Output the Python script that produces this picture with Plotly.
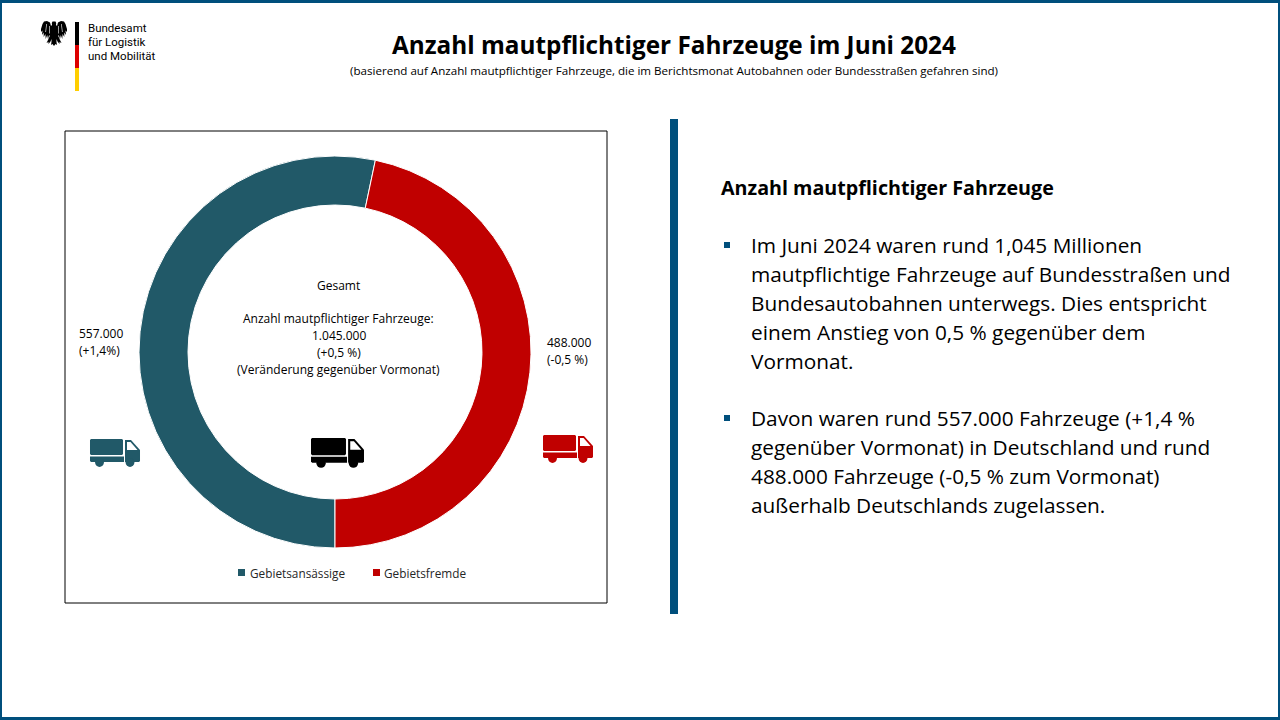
import plotly.graph_objects as go

W, H = 1280, 720
categories = ["Gebietsansässige", "Gebietsfremde"]
values = [557000, 488000]
teal, red, navy = "#215968", "#C00000", "#004F7C"
FONT = "Open Sans"

title = "Anzahl mautpflichtiger Fahrzeuge im Juni 2024"
subtitle = "(basierend auf Anzahl mautpflichtiger Fahrzeuge, die im Berichtsmonat Autobahnen oder Bundesstraßen gefahren sind)"
logo_lines = ["Bundesamt", "für Logistik", "und Mobilität"]
center_lines = ["Gesamt", "Anzahl mautpflichtiger Fahrzeuge:", "1.045.000", "(+0,5 %)", "(Veränderung gegenüber Vormonat)"]
left_label = ["557.000", "(+1,4%)"]
right_label = ["488.000", "(-0,5 %)"]
heading = "Anzahl mautpflichtiger Fahrzeuge"
para1 = ["Im Juni 2024 waren rund 1,045 Millionen", "mautpflichtige Fahrzeuge auf Bundesstraßen und",
         "Bundesautobahnen unterwegs. Dies entspricht", "einem Anstieg von 0,5 % gegenüber dem", "Vormonat."]
para2 = ["Davon waren rund 557.000 Fahrzeuge (+1,4 %", "gegenüber Vormonat) in Deutschland und rund",
         "488.000 Fahrzeuge (-0,5 % zum Vormonat)", "außerhalb Deutschlands zugelassen."]

def px(x): return x / W
def py(y): return 1 - y / H

shapes, annotations = [], []

def rect(x0, y0, x1, y1, fill=None, line=None, lw=0):
    shapes.append(dict(type="rect", xref="paper", yref="paper", x0=px(x0), x1=px(x1), y0=py(y1), y1=py(y0),
                       fillcolor=fill or "rgba(0,0,0,0)", line=dict(color=line or "rgba(0,0,0,0)", width=lw)))

def poly(points, fill, ox=0, oy=0, sx=1, sy=1):
    d = "M" + " L".join(f"{px(ox + a * sx):.5f},{py(oy + b * sy):.5f}" for a, b in points) + " Z"
    shapes.append(dict(type="path", xref="paper", yref="paper", path=d, fillcolor=fill, line=dict(width=0)))

def circle(cx, cy, r, fill):
    shapes.append(dict(type="circle", xref="paper", yref="paper", x0=px(cx - r), x1=px(cx + r),
                       y0=py(cy + r), y1=py(cy - r), fillcolor=fill, line=dict(width=0)))

def text(x, y, s, size, anchor="left", bold=False, color="#000000", family=FONT):
    annotations.append(dict(xref="paper", yref="paper", x=px(x), y=py(y), text=f"<b>{s}</b>" if bold else s,
                            showarrow=False, xanchor=anchor, yanchor="middle", align=anchor,
                            font=dict(family=family, size=size, color=color), borderpad=0))

def truck(x, y, w, h, color):
    sx, sy = w / 50, h / 28
    poly([(1, 0), (32, 0), (33, 1), (33, 15), (32, 16), (1, 16), (0, 15), (0, 1)], color, x, y, sx, sy)
    poly([(0, 17.5), (34, 17.5), (34, 23), (1, 23), (0, 22)], color, x, y, sx, sy)
    poly([(35, 1), (41, 1), (50, 11), (50, 22), (49, 23), (35, 23)], color, x, y, sx, sy)
    poly([(37, 3), (40.5, 3), (47.5, 11), (37, 11)], "#FFFFFF", x, y, sx, sy)
    circle(x + 9.5 * sx, y + 23.5 * sy, 4.4 * sx, color)
    circle(x + 40 * sx, y + 23.5 * sy, 4.4 * sx, color)

# slide frame
rect(0, 0, W, 3, navy); rect(0, 717, W, H, navy); rect(0, 0, 2, H, navy); rect(W - 2, 0, W, H, navy)
# logo
rect(75, 22, 79, 45, "#000000"); rect(75, 45, 79, 68, "#DD0000"); rect(75, 68, 79, 91, "#FFCE00")
half = [(0, 0.5), (1.5, 0.5), (2.2, 2), (2, 4), (3, 5), (4, 1.5), (7, 0), (10, 0.5), (11.5, 3), (13, 8), (13, 11),
        (11.5, 9.5), (12, 14), (10.3, 11.5), (10.3, 16), (8.6, 13), (8.3, 18), (6.8, 14), (6, 18), (5, 14.5), (4, 14.5),
        (6, 19), (7.5, 22), (5.5, 21), (5.5, 23), (3.5, 20.5), (2.5, 18), (2.5, 21), (3, 24), (1.5, 23), (0, 25)]
poly(half + [(-a, b) for a, b in reversed(half[1:-1])], "#000000", 54, 21)
for sign in (1, -1):
    poly([(sign * 4.2, 5), (sign * 4.8, 5), (sign * 5, 12.5), (sign * 4.4, 12.5)], "#FFFFFF", 54, 21)
    poly([(sign * 7.2, 3), (sign * 7.8, 3), (sign * 8.6, 11), (sign * 8, 11)], "#FFFFFF", 54, 21)
for i, s in enumerate(logo_lines):
    text(87, 28 + i * 14, s, 11.5, family="Roboto")
# titles
text(673.5, 44, title, 24.3, "center", True)
text(674, 71, subtitle, 11.6, "center")
# chart box and divider
rect(65, 131, 607, 603, None, "#000000", 1)
rect(670, 119, 678, 614, navy)
# centre and side labels
for y, s in zip([285.5, 318.5, 335.5, 352.5, 369.5], center_lines):
    text(338.5, y, s, 12, "center")
for y, s in zip([333, 350], left_label):
    text(77.5, y, s, 12)
for y, s in zip([342.5, 359.5], right_label):
    text(545.5, y, s, 12)
truck(90, 439, 50, 28, teal)
truck(311, 438, 53, 30, "#000000")
truck(543, 435, 50, 28, red)
# legend
rect(238, 569, 245, 576, teal); rect(373, 569, 380, 576, red)
text(248.5, 572.5, categories[0], 11.8, color="#262626")
text(382.5, 572.5, categories[1], 11.8, color="#262626")
# right text
text(720, 188, heading, 19.7, bold=True)
for y, s in zip([245, 274, 303, 332, 361], para1):
    text(750, y, s, 20.8)
for y, s in zip([418, 447, 476, 505], para2):
    text(750, y, s, 20.8)
rect(724, 242, 730, 248, navy); rect(724, 415, 730, 421, navy)

fig = go.Figure(go.Pie(
    labels=categories, values=values, hole=0.75, sort=False, direction="clockwise", rotation=180,
    marker=dict(colors=[teal, red], line=dict(color="#FFFFFF", width=1)),
    textinfo="none", hoverinfo="skip", showlegend=False,
    domain=dict(x=[139 / W, 531 / W], y=[1 - 548 / H, 1 - 156 / H]),
))
fig.update_layout(
    width=W, height=H, margin=dict(l=0, r=0, t=0, b=0), paper_bgcolor="#FFFFFF",
    shapes=shapes, annotations=annotations,
)
fig.write_html("out.html", config=dict(displayModeBar=False),
               post_script="document.body.style.margin='0';document.documentElement.style.overflow='hidden';")
